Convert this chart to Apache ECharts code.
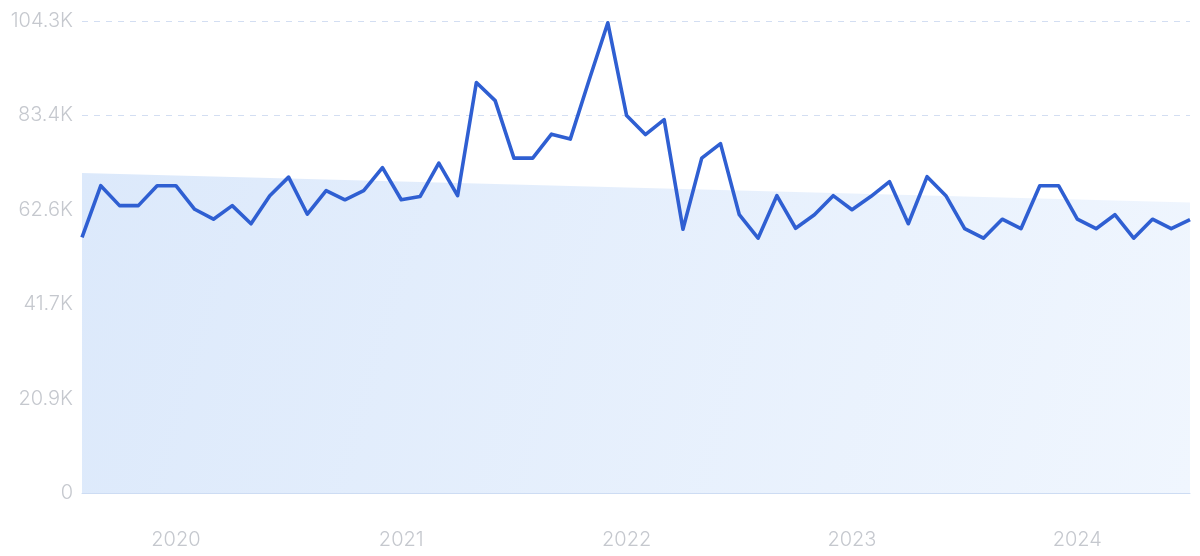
<!DOCTYPE html>
<html>
<head>
<meta charset="utf-8">
<script src="https://cdn.jsdelivr.net/npm/echarts@6/dist/echarts.min.js"></script>
<style>
  html, body { margin: 0; padding: 0; background: #ffffff; }
  #chart { width: 1200px; height: 556px; }
</style>
</head>
<body>
<div id="chart"></div>
<script>
// Months, Aug 2019 .. Jul 2024
const months = [
  '2019-08','2019-09','2019-10','2019-11','2019-12',
  '2020-01','2020-02','2020-03','2020-04','2020-05','2020-06','2020-07','2020-08','2020-09','2020-10','2020-11','2020-12',
  '2021-01','2021-02','2021-03','2021-04','2021-05','2021-06','2021-07','2021-08','2021-09','2021-10','2021-11','2021-12',
  '2022-01','2022-02','2022-03','2022-04','2022-05','2022-06','2022-07','2022-08','2022-09','2022-10','2022-11','2022-12',
  '2023-01','2023-02','2023-03','2023-04','2023-05','2023-06','2023-07','2023-08','2023-09','2023-10','2023-11','2023-12',
  '2024-01','2024-02','2024-03','2024-04','2024-05','2024-06','2024-07'
];

const traffic = [
  56500, 67900, 63500, 63500, 67900,
  67900, 62700, 60500, 63500, 59500, 65700, 69800, 61600, 66800, 64800, 66800, 71900,
  64800, 65500, 72900, 65700, 90700, 86700, 74000, 74000, 79300, 78200, 91200, 103900,
  83400, 79200, 82500, 58300, 74000, 77200, 61500, 56300, 65700, 58500, 61500, 65700,
  62600, 65500, 68800, 59500, 69900, 65700, 58400, 56300, 60500, 58400, 67900, 67900,
  60500, 58400, 61500, 56300, 60500, 58400, 60400
];

// Trend band end values (start and end of the straight edge)
const trendStart = 70700;
const trendEnd = 64200;

const yTicks = [0, 20860, 41720, 62580, 83440, 104300];
const yTickLabels = ['0', '20.9K', '41.7K', '62.6K', '83.4K', '104.3K'];

const chart = echarts.init(document.getElementById('chart'), null, { renderer: 'canvas' });

chart.setOption({
  animation: false,
  backgroundColor: '#ffffff',
  grid: { left: 82, right: 10, top: 21, bottom: 63, containLabel: false },
  xAxis: {
    type: 'category',
    data: months,
    boundaryGap: false,
    axisLine: { show: true, lineStyle: { color: '#cddcf3', width: 1 } },
    axisTick: { show: false },
    splitLine: { show: false },
    axisLabel: {
      interval: function (idx, val) { return val.slice(5) === '01'; },
      formatter: function (val) { return val.slice(0, 4); },
      color: '#c5c8ce',
      fontSize: 20,
      fontFamily: 'Inter',
      fontWeight: 300,
      margin: 37
    }
  },
  yAxis: {
    type: 'value',
    min: 0,
    max: yTicks[yTicks.length - 1],
    interval: yTicks[1],
    axisLine: { show: false },
    axisTick: { show: false },
    splitLine: { show: true, lineStyle: { color: '#d3def2', type: [6, 6], width: 1 } },
    axisLabel: {
      formatter: function (v) {
        const i = yTicks.findIndex(t => Math.abs(t - v) < 1);
        return i >= 0 ? yTickLabels[i] : '';
      },
      color: '#c5c8ce',
      fontSize: 20,
      fontFamily: 'Inter',
      fontWeight: 300,
      margin: 9
    }
  },
  series: [
    {
      type: 'line',
      data: [[months[0], trendStart], [months[months.length - 1], trendEnd]],
      symbol: 'none',
      lineStyle: { width: 0, opacity: 0 },
      areaStyle: {
        opacity: 1,
        color: new echarts.graphic.LinearGradient(0, 0, 1, 1, [
          { offset: 0, color: '#dce9fb' },
          { offset: 1, color: '#f0f6fe' }
        ])
      },
      silent: true,
      z: 1
    },
    {
      type: 'line',
      data: traffic,
      symbol: 'none',
      smooth: false,
      lineStyle: { color: '#2f5fd2', width: 3.6, join: 'round' },
      z: 3
    }
  ]
});
</script>
</body>
</html>
